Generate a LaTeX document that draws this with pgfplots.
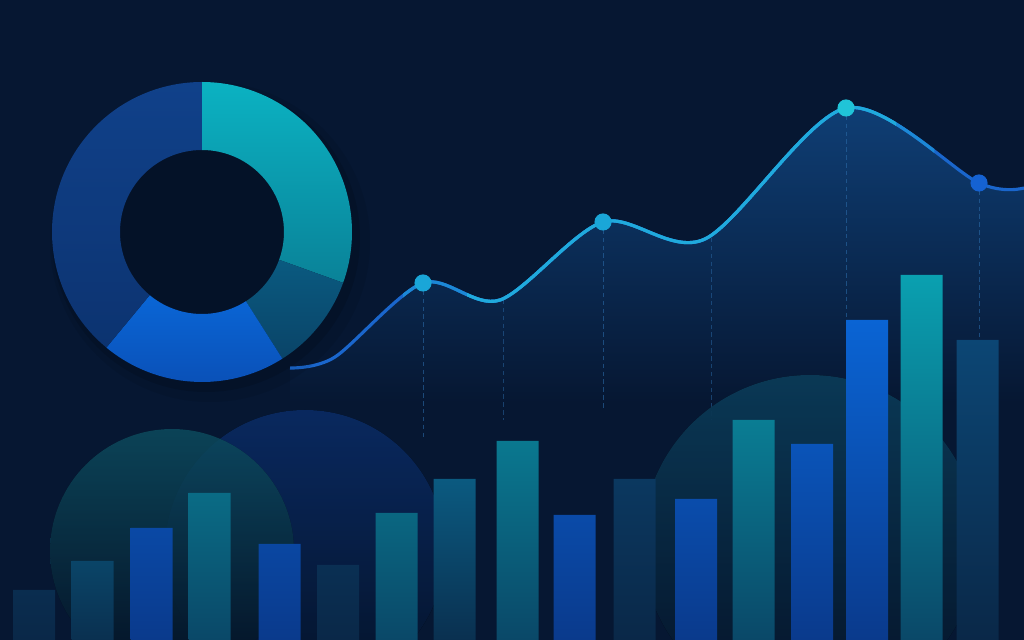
\documentclass[border=0pt]{standalone}
\usepackage{pgfplots}
\pgfplotsset{compat=1.18}

\definecolor{bg}{HTML}{061732}
\definecolor{areatop}{HTML}{0F3F76}
\definecolor{lineblue}{HTML}{1A66CC}
\definecolor{linemid}{HTML}{1C88D6}
\definecolor{linecyan}{HTML}{20AADC}
\definecolor{tealtop}{HTML}{0AA0B0}
\definecolor{tealbot}{HTML}{0A4868}
\definecolor{bluetop}{HTML}{0A64D4}
\definecolor{bluebot}{HTML}{0A3A8C}
\definecolor{darktop}{HTML}{0C4674}
\definecolor{darkbot}{HTML}{0A2848}
\definecolor{midtop}{HTML}{0B5A80}
\definecolor{midbot}{HTML}{0A3050}
\definecolor{circA}{HTML}{126A84}
\definecolor{circB}{HTML}{0B3274}
\definecolor{circC}{HTML}{0E4A6E}
\definecolor{guide}{HTML}{2A6AA8}
\definecolor{markA}{HTML}{1AA6D8}
\definecolor{markB}{HTML}{20C4D8}
\definecolor{markC}{HTML}{1562D2}
% donut
\definecolor{donA1}{HTML}{0BB2C2}
\definecolor{donA2}{HTML}{0A8298}
\definecolor{donB1}{HTML}{0A5A80}
\definecolor{donB2}{HTML}{0A4468}
\definecolor{donC1}{HTML}{0A66D6}
\definecolor{donC2}{HTML}{0A4EB4}
\definecolor{donD1}{HTML}{10418A}
\definecolor{donD2}{HTML}{0C3370}

% area shading: background colour up to about y=230, then blue to the top
\pgfdeclareverticalshading{areashade}{100bp}{color(0bp)=(bg); color(47bp)=(bg);
  color(75bp)=(areatop); color(100bp)=(areatop)}

\pgfplotsset{
  canvas/.style={
    at={(0,0)}, anchor=origin,
    scale only axis,
    width=16cm, height=10cm,
    xmin=0, xmax=1024,
    ymin=0, ymax=640,
    hide axis,
    clip=true,
  },
}

% trend line (x, y from the bottom)
\pgfplotstableread{
x    y
290  272
335  283
423  357
500  340
603  418
705  401
846  532
979  457
1024 452
}\linedata

\begin{document}
\begin{tikzpicture}
  \useasboundingbox (0,0) rectangle (16cm,10cm);
  \fill[bg] (0,0) rectangle (16cm,10cm);

  \begin{axis}[canvas]
    % area under the trend line
    \addplot[smooth, draw=none, shading=areashade] table {\linedata} \closedcycle;

    % guide lines
    \addplot[guide, line width=0.4pt, dash pattern=on 2pt off 1.5pt, opacity=0.6]
      coordinates {(423,357)(423,200)};
    \addplot[guide, line width=0.4pt, dash pattern=on 2pt off 1.5pt, opacity=0.5]
      coordinates {(503,340)(503,220)};
    \addplot[guide, line width=0.4pt, dash pattern=on 2pt off 1.5pt, opacity=0.6]
      coordinates {(603,418)(603,230)};
    \addplot[guide, line width=0.4pt, dash pattern=on 2pt off 1.5pt, opacity=0.5]
      coordinates {(711,402)(711,220)};
    \addplot[guide, line width=0.4pt, dash pattern=on 2pt off 1.5pt, opacity=0.6]
      coordinates {(846,532)(846,240)};
    \addplot[guide, line width=0.4pt, dash pattern=on 2pt off 1.5pt, opacity=0.6]
      coordinates {(979,457)(979,260)};

    % background circles
    \fill[top color=circB, bottom color=bg, opacity=0.8] (axis cs:305,90) circle[radius=2.1875cm];
    \fill[top color=circA, bottom color=bg, opacity=0.6] (axis cs:172,89) circle[radius=1.906cm];
    \fill[top color=circC, bottom color=bg, opacity=0.75] (axis cs:810,97) circle[radius=2.625cm];

    % trend line (blue ends)
    \addplot[smooth, lineblue, line width=1.4pt] table {\linedata};

    % bars
    \addplot[ybar, bar width=42, bar shift=0pt, draw=none,
             top color=tealtop, bottom color=tealbot]
      coordinates {(209.5,147)(396.5,127)(517.5,199)(753.5,220)(921.5,365)};
    \addplot[ybar, bar width=42, bar shift=0pt, draw=none,
             top color=bluetop, bottom color=bluebot]
      coordinates {(151.5,112)(279.5,96)(574.5,125)(696,141)(812,196)(867,320)};
    \addplot[ybar, bar width=42, bar shift=0pt, draw=none,
             top color=darktop, bottom color=darkbot]
      coordinates {(34,50)(338,75)(634.5,161)(977.5,300)};
    \addplot[ybar, bar width=42, bar shift=0pt, draw=none,
             top color=midtop, bottom color=midbot]
      coordinates {(92.5,79)(454.5,161)};
  \end{axis}

  % the same line, lighter towards the middle
  \begin{scope}
    \clip (6.3cm,0) rectangle (14.6cm,10cm);
    \begin{axis}[canvas]
      \addplot[smooth, linemid, line width=1.4pt] table {\linedata};
    \end{axis}
  \end{scope}
  \begin{scope}
    \clip (7.3cm,0) rectangle (14.0cm,10cm);
    \begin{axis}[canvas]
      \addplot[smooth, linecyan, line width=1.4pt] table {\linedata};
    \end{axis}
  \end{scope}

  % markers
  \begin{axis}[canvas]
    \addplot[only marks, mark=*, mark size=3.6pt, color=markA]
      coordinates {(423,357)(603,418)};
    \addplot[only marks, mark=*, mark size=3.6pt, color=markB]
      coordinates {(846,532)};
    \addplot[only marks, mark=*, mark size=3.6pt, color=markC]
      coordinates {(979,457)};
  \end{axis}

  % donut (shares in percent, clockwise from the top)
  \begin{scope}[x=0.015625cm, y=0.015625cm]
    \fill[black, opacity=0.08] (210,398) circle[radius=160];
    \fill[black, opacity=0.12] (206,402) circle[radius=154];
    \foreach \v/\ca/\cb [remember=\e as \s (initially 90),
                         evaluate=\v as \e using \s-3.6*\v] in
        {30.5/donA1/donA2, 10.5/donB1/donB2, 20/donC1/donC2, 39/donD1/donD2} {
      \path[top color=\ca, bottom color=\cb]
        ([shift={(\s:150)}]202,408) arc[start angle=\s, end angle=\e, radius=150]
        -- ([shift={(\e:82)}]202,408) arc[start angle=\e, end angle=\s, radius=82]
        -- cycle;
    }
  \end{scope}
\end{tikzpicture}
\end{document}
